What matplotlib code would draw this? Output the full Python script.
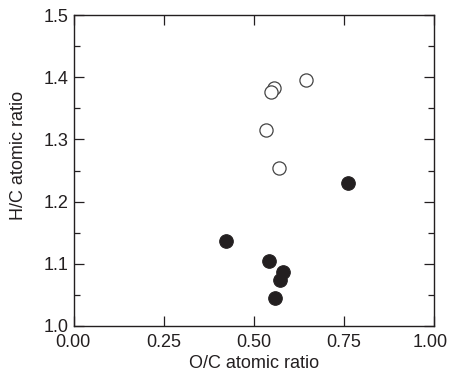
import matplotlib
matplotlib.use("Agg")
import matplotlib.pyplot as plt
import matplotlib.transforms as mtransforms
from matplotlib.ticker import MultipleLocator

plt.rcParams['font.family'] = ['Liberation Sans', 'DejaVu Sans']

open_oc = [0.644, 0.556, 0.546, 0.532, 0.570]
open_hc = [1.396, 1.383, 1.377, 1.316, 1.254]
filled_oc = [0.761, 0.422, 0.541, 0.580, 0.573, 0.558]
filled_hc = [1.230, 1.137, 1.104, 1.087, 1.074, 1.045]

xticks = [0.00, 0.25, 0.50, 0.75, 1.00]
xticklabels = ["0.00", "0.25", "0.50", "0.75", "1.00"]
yticks = [1.0, 1.1, 1.2, 1.3, 1.4, 1.5]
yticklabels = ["1.0", "1.1", "1.2", "1.3", "1.4", "1.5"]

dark = '#231f20'
fig = plt.figure(figsize=(4.49, 3.79), dpi=100)
ax = fig.add_axes([0.165, 0.140, 0.802, 0.820])

ax.scatter(open_oc, open_hc, s=90, facecolors='white', edgecolors='#444444', linewidths=0.9, zorder=3)
ax.scatter(filled_oc, filled_hc, s=95, facecolors=dark, edgecolors=dark, linewidths=0.8, zorder=3)

ax.set_xlim(0, 1)
ax.set_ylim(1.0, 1.5)
ax.set_xticks(xticks)
ax.set_xticklabels(xticklabels)
ax.set_yticks(yticks)
ax.set_yticklabels(yticklabels)
ax.yaxis.set_minor_locator(MultipleLocator(0.05))

ax.tick_params(which='both', direction='in', top=True, right=True, colors=dark, labelsize=13, width=0.9)
ax.tick_params(axis='x', which='major', length=7, pad=6)
ax.tick_params(axis='y', which='major', length=7, pad=4)
ax.tick_params(which='minor', length=4)
for sp in ax.spines.values():
    sp.set_color(dark)
    sp.set_linewidth(1.0)

# nudge outermost x labels inward slightly, as in the reference
xl = ax.get_xticklabels()
xl[-1].set_transform(xl[-1].get_transform() + mtransforms.ScaledTranslation(-4/100, 0, fig.dpi_scale_trans))
xl[0].set_transform(xl[0].get_transform() + mtransforms.ScaledTranslation(-1.5/100, 0, fig.dpi_scale_trans))

ax.set_xlabel('O/C atomic ratio', fontsize=13, color=dark, labelpad=3)
ax.set_ylabel('H/C atomic ratio', fontsize=13, color=dark)
ax.yaxis.set_label_coords(-0.13, 0.55)

fig.savefig('out.png', dpi=100)
